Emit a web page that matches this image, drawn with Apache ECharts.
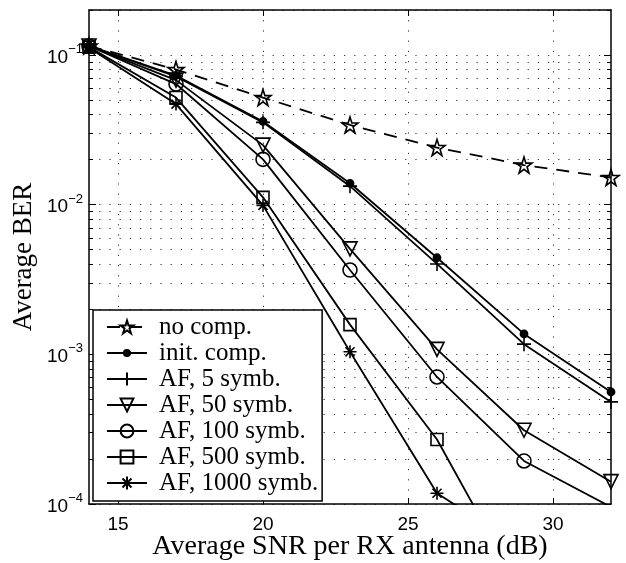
<!DOCTYPE html>
<html>
  <head>
    <meta charset="utf-8" />
    <title>BER vs SNR</title>
    <script src="https://cdn.jsdelivr.net/npm/echarts@6/dist/echarts.min.js"></script>
  </head>
  <body style="margin:0;background:#fff">
    <div id="main" style="width: 626px; height: 563px"></div>
    <script type="text/javascript">
      // x values (dB) and BER values
      var snr = [14, 17, 20, 23, 26, 29, 32];
      var noComp = [0.115, 0.080, 0.052, 0.0341, 0.0241, 0.0184, 0.0152];
      var initComp = [0.115, 0.073, 0.036, 0.0139, 0.00442, 0.00137, 0.000561];
      var af5 = [0.115, 0.072, 0.0355, 0.0133, 0.00402, 0.00117, 0.000481];
      var af50 = [0.115, 0.068, 0.025, 0.00507, 0.00108, 0.000311, 0.000141];
      var af100 = [0.115, 0.064, 0.0201, 0.00366, 0.000706, 0.000194, 0.0000955];
      var af500 = [0.113, 0.052, 0.0112, 0.00158, 0.00027, 0.000024];
      var af1000 = [0.112, 0.047, 0.0099, 0.00104, 0.000118, 0.00005];

      var names = ["no comp.", "init. comp.", "AF, 5 symb.", "AF, 50 symb.",
                   "AF, 100 symb.", "AF, 500 symb.", "AF, 1000 symb."];
      var xTicks = [15, 20, 25, 30];
      var yMajor = [1e-4, 1e-3, 1e-2, 1e-1];

      // log grid at 1..9 x decade
      var yMinor = [];
      for (var e = -4; e <= -1; e++) {
        for (var k = 1; k <= 9; k++) {
          var v = k * Math.pow(10, e);
          if (v <= 0.2) yMinor.push(v);
        }
      }

      var serif = "Liberation Serif";
      var sans = "Liberation Sans";

      var STAR = "path://M50,2 L61,36 L97,36 L68,57 L79,92 L50,71 L21,92 L32,57 L3,36 L39,36 Z";
      var PLUS = "path://M5,0L5,10M0,5L10,5";
      var ASTER = "path://M5,0L5,10M0,5L10,5M1.5,1.5L8.5,8.5M1.5,8.5L8.5,1.5";
      // small dot inside a 10x10 box, so legend icon stays small
      var DOT = "path://M0,0M10,10M5,2.6A2.4,2.4,0,1,1,5,7.4A2.4,2.4,0,1,1,5,2.6Z";

      function pairs(ys) {
        var out = [];
        for (var i = 0; i < ys.length; i++) out.push([snr[i], ys[i]]);
        return out;
      }

      function mk(name, ys, symbol, size, fill, extra) {
        var s = {
          name: name,
          type: "line",
          data: pairs(ys),
          symbol: symbol,
          symbolSize: size,
          showAllSymbol: true,
          clip: true,
          lineStyle: { color: "#000", width: 1.8, type: "solid" },
          itemStyle: { color: fill, borderColor: "#000", borderWidth: 1.6 },
          emphasis: { disabled: true },
          z: 3
        };
        if (extra) for (var key in extra) s[key] = extra[key];
        return s;
      }

      var series = [
        mk(names[0], noComp, STAR, 16, "transparent",
           { lineStyle: { color: "#000", width: 1.8, type: [13, 9] } }),
        mk(names[1], initComp, DOT, 15, "#000"),
        mk(names[2], af5, PLUS, 14, "transparent"),
        mk(names[3], af50, "triangle", 14, "transparent", { symbolRotate: 180 }),
        mk(names[4], af100, "circle", 14, "transparent"),
        mk(names[5], af500, "rect", 12, "transparent"),
        mk(names[6], af1000, ASTER, 13, "transparent")
      ];

      var myChart = echarts.init(document.getElementById("main"));

      var option = {
        animation: false,
        backgroundColor: "#fff",
        grid: { left: 89, top: 10, right: 15, bottom: 59, outerBoundsMode: "none", containLabel: false },
        legend: {
          data: names,
          orient: "vertical",
          left: 93,
          top: 310,
          padding: [4, 4, 5, 13],
          itemGap: 0,
          itemWidth: 40,
          itemHeight: 16,
          backgroundColor: "#fff",
          borderColor: "#000",
          borderWidth: 1.5,
          selectedMode: false,
          textStyle: {
            fontFamily: serif,
            fontSize: 25,
            lineHeight: 26,
            color: "#000",
            padding: [0, 0, 0, 7]
          },
          z: 10
        },
        xAxis: [
          {
            type: "value",
            min: 14,
            max: 32,
            name: "Average SNR per RX antenna (dB)",
            nameLocation: "middle",
            nameGap: 29,
            nameMoveOverlap: false,
            nameTextStyle: { fontFamily: serif, fontSize: 28, color: "#000" },
            axisLine: { lineStyle: { color: "#000", width: 1.5 } },
            axisTick: { inside: true, length: 6, customValues: xTicks,
                        lineStyle: { color: "#000", width: 1 } },
            axisLabel: { customValues: xTicks, margin: 11, fontFamily: sans,
                         fontSize: 19, color: "#000" },
            splitLine: { show: true,
                         lineStyle: { color: "#333", width: 1, type: [1.2, 9] } }
          },
          {
            type: "value",
            position: "top",
            min: 14,
            max: 32,
            axisLine: { lineStyle: { color: "#000", width: 1.5 } },
            axisTick: { inside: true, length: 6, customValues: xTicks,
                        lineStyle: { color: "#000", width: 1 } },
            axisLabel: { show: false },
            splitLine: { show: false }
          }
        ],
        yAxis: [
          {
            type: "log",
            logBase: 10,
            min: 1e-4,
            max: 0.2,
            name: "Average BER",
            nameLocation: "middle",
            nameGap: 52,
            nameMoveOverlap: false,
            nameTextStyle: { fontFamily: serif, fontSize: 27, color: "#000" },
            axisLine: { lineStyle: { color: "#000", width: 1.5 } },
            axisTick: { inside: true, length: 4, customValues: yMinor,
                        lineStyle: { color: "#000", width: 1 } },
            axisLabel: {
              customValues: yMajor,
              margin: 6,
              formatter: function (v) {
                var p = Math.round(Math.log10(v));
                return "{b|10}{s|\u2212" + (-p) + "}";
              },
              rich: {
                b: { fontFamily: sans, fontSize: 19, color: "#000",
                     lineHeight: 24, verticalAlign: "bottom" },
                s: { fontFamily: sans, fontSize: 13, color: "#000",
                     lineHeight: 24, verticalAlign: "top" }
              }
            },
            splitLine: { show: true,
                         lineStyle: { color: "#333", width: 1, type: [1.2, 9] } }
          },
          {
            type: "log",
            logBase: 10,
            position: "right",
            min: 1e-4,
            max: 0.2,
            axisLine: { show: true, lineStyle: { color: "#000", width: 1.5 } },
            axisTick: { inside: true, length: 4, customValues: yMinor,
                        lineStyle: { color: "#000", width: 1 } },
            axisLabel: { show: false },
            splitLine: { show: false }
          },
          {
            type: "log",
            logBase: 10,
            position: "left",
            min: 1e-4,
            max: 0.2,
            axisLine: { show: false },
            axisTick: { inside: true, length: 7, customValues: yMajor,
                        lineStyle: { color: "#000", width: 1 } },
            axisLabel: { show: false },
            splitLine: { show: false }
          },
          {
            type: "log",
            logBase: 10,
            position: "right",
            min: 1e-4,
            max: 0.2,
            axisLine: { show: false },
            axisTick: { inside: true, length: 7, customValues: yMajor,
                        lineStyle: { color: "#000", width: 1 } },
            axisLabel: { show: false },
            splitLine: { show: false }
          }
        ],
        series: series
      };

      myChart.setOption(option);
    </script>
  </body>
</html>
